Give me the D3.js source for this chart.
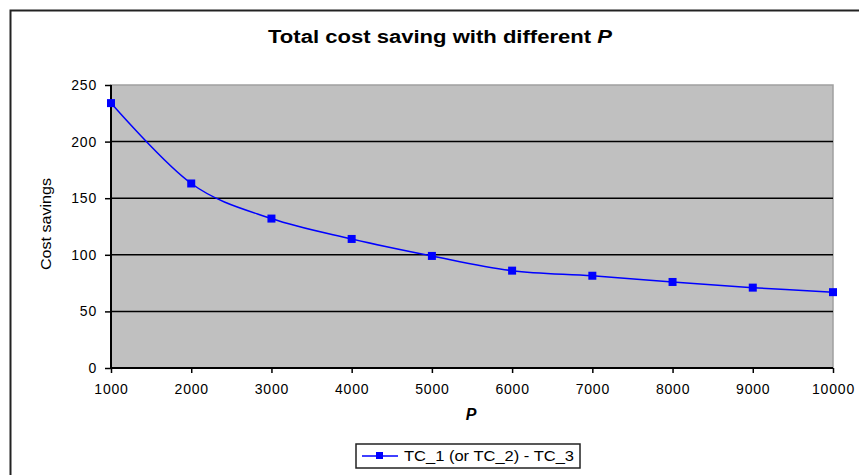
<!DOCTYPE html>
<html>
<head>
<meta charset="utf-8">
<script src="https://cdn.jsdelivr.net/npm/d3@7"></script>
<style>
  body { margin: 0; background: #fff; }
  text { font-family: "Liberation Sans", Arial, sans-serif; }
</style>
</head>
<body>
<div id="chart-area"></div>
<script>
// data
const pValues = [1000, 2000, 3000, 4000, 5000, 6000, 7000, 8000, 9000, 10000];
const savings = [234, 163, 132, 114, 99, 86, 81.5, 76, 71, 67];
const yTicks = [0, 50, 100, 150, 200, 250];
const seriesName = "TC_1 (or TC_2) - TC_3";

const W = 859, H = 475;
const margin = { left: 111, right: 26, top: 85, bottom: 107 };
const width = W - margin.left - margin.right;
const height = H - margin.top - margin.bottom;

const svg = d3.select("#chart-area")
  .append("svg")
  .attr("width", W)
  .attr("height", H);

// outer chart frame (runs off the right and bottom of the crop)
svg.append("path")
  .attr("d", `M10.5,${H + 5} L10.5,10.5 L${W + 5},10.5`)
  .attr("fill", "none")
  .attr("stroke", "#222")
  .attr("stroke-width", 2);

// title
const title = svg.append("text")
  .attr("x", 440)
  .attr("y", 43)
  .attr("text-anchor", "middle")
  .attr("font-size", "18px")
  .attr("font-weight", "bold")
  .attr("textLength", 344)
  .attr("lengthAdjust", "spacingAndGlyphs");
title.append("tspan").text("Total cost saving with different ");
title.append("tspan").attr("font-style", "italic").text("P");

const g = svg.append("g")
  .attr("transform", `translate(${margin.left}, ${margin.top})`);

const x = d3.scaleLinear().domain([1000, 10000]).range([0, width]);
const y = d3.scaleLinear().domain([0, 250]).range([height, 0]);

// plot area
g.append("rect")
  .attr("width", width)
  .attr("height", height)
  .attr("fill", "#c0c0c0")
  .attr("stroke", "#a0a0a0")
  .attr("stroke-width", 1.5);

// gridlines
g.selectAll(".grid")
  .data(yTicks.filter(d => d > 0 && d < 250))
  .enter()
  .append("line")
  .attr("class", "grid")
  .attr("x1", 0)
  .attr("x2", width)
  .attr("y1", d => y(d))
  .attr("y2", d => y(d))
  .attr("stroke", "#000")
  .attr("stroke-width", 1.5);

// y axis
const yAxis = g.append("g")
  .call(d3.axisLeft(y).tickValues(yTicks).tickSize(6).tickPadding(8));
yAxis.select(".domain").attr("stroke", "#000").attr("stroke-width", 2)
  .attr("d", `M0,${height}V0`);
yAxis.selectAll(".tick line").attr("stroke-width", 1.5);
yAxis.selectAll("text")
  .attr("font-size", "14px")
  .attr("letter-spacing", "0.8px")
  .attr("fill", "#000")
  .style("font-family", "Liberation Sans, Arial, sans-serif");

// x axis
const xAxis = g.append("g")
  .attr("transform", `translate(0, ${height})`)
  .call(d3.axisBottom(x).tickValues(pValues).tickSize(5).tickPadding(11).tickFormat(d3.format("d")));
xAxis.select(".domain").attr("stroke", "#000").attr("stroke-width", 2)
  .attr("d", `M0,0H${width}`);
xAxis.selectAll(".tick line").attr("stroke-width", 1.5);
xAxis.selectAll("text")
  .attr("font-size", "14px")
  .attr("letter-spacing", "0.8px")
  .attr("fill", "#000")
  .style("font-family", "Liberation Sans, Arial, sans-serif");

// axis labels
svg.append("text")
  .attr("transform", `translate(51, 224) rotate(-90)`)
  .attr("text-anchor", "middle")
  .attr("font-size", "14px")
  .attr("textLength", 92)
  .attr("lengthAdjust", "spacingAndGlyphs")
  .text("Cost savings");

svg.append("text")
  .attr("x", 471)
  .attr("y", 420)
  .attr("text-anchor", "middle")
  .attr("font-size", "16px")
  .attr("font-weight", "bold")
  .attr("font-style", "italic")
  .text("P");

// series (Excel-style smoothed line)
const pts = pValues.map((p, i) => ({ p, v: savings[i] }));
const line = d3.line()
  .x(d => x(d.p))
  .y(d => y(d.v))
  .curve(d3.curveCardinal.tension(0));

g.append("path")
  .datum(pts)
  .attr("d", line)
  .attr("fill", "none")
  .attr("stroke", "#0000ff")
  .attr("stroke-width", 1.5);

g.selectAll(".marker")
  .data(pts)
  .enter()
  .append("rect")
  .attr("class", "marker")
  .attr("x", d => x(d.p) - 4)
  .attr("y", d => y(d.v) - 4)
  .attr("width", 8)
  .attr("height", 8)
  .attr("fill", "#0000ff");

// legend
const legend = svg.append("g").attr("transform", "translate(356, 444)");
legend.append("rect")
  .attr("width", 224)
  .attr("height", 24)
  .attr("fill", "#fff")
  .attr("stroke", "#222")
  .attr("stroke-width", 1.5);
legend.append("line")
  .attr("x1", 6).attr("x2", 42)
  .attr("y1", 12).attr("y2", 12)
  .attr("stroke", "#0000ff")
  .attr("stroke-width", 1.5);
legend.append("rect")
  .attr("x", 20).attr("y", 8)
  .attr("width", 7).attr("height", 7)
  .attr("fill", "#0000ff");
legend.append("text")
  .attr("x", 48)
  .attr("y", 17)
  .attr("font-size", "14px")
  .attr("textLength", 170)
  .attr("lengthAdjust", "spacingAndGlyphs")
  .text(seriesName);
</script>
</body>
</html>
